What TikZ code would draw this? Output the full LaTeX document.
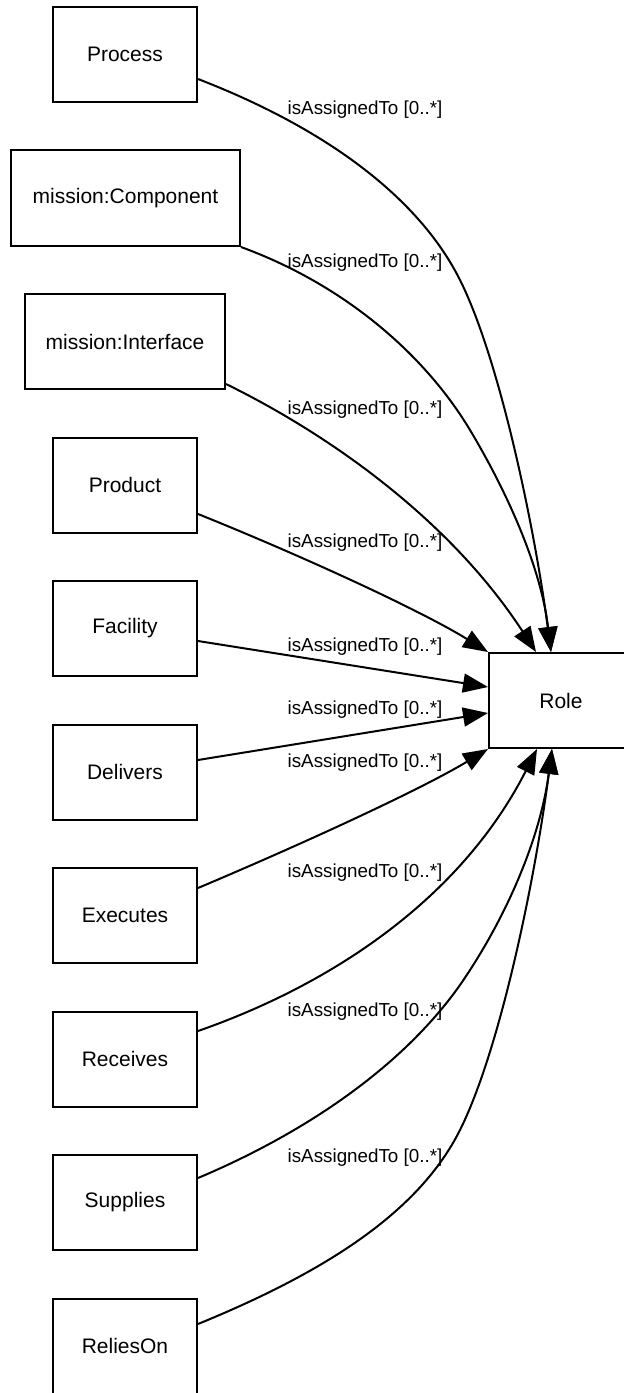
\documentclass[tikz,border=0pt]{standalone}
\usepackage{fontspec}
\setmainfont{Liberation Sans}
\usetikzlibrary{arrows.meta}
\begin{document}
\begin{tikzpicture}[x=1pt,y=-1pt,
  box/.style={draw=black, line width=2pt, fill=white, minimum width=144pt, minimum height=95pt, inner sep=0pt, font=\fontsize{21}{25}\selectfont},
  lbl/.style={inner sep=0pt, font=\fontsize{18.8}{22}\selectfont},
  conn/.style={line width=2pt, -{Triangle[length=25pt,width=19pt]}}]
\fill[white] (0,0) rectangle (624,1393);
\useasboundingbox (0,0) rectangle (624,1393);

\node[box] (process) at (125,54.5) {Process};
\node[box, minimum width=229pt, minimum height=96pt] (component) at (125.5,198) {mission:Component};
\node[box, minimum width=200pt] (interface) at (125,341.5) {mission:Interface};
\node[box] (product) at (125,485) {Product};
\node[box] (facility) at (125,628.5) {Facility};
\node[box] (delivers) at (125,772) {Delivers};
\node[box] (executes) at (125,915.5) {Executes};
\node[box] (receives) at (125,1059) {Receives};
\node[box] (supplies) at (125,1202.5) {Supplies};
\node[box] (relieson) at (125,1346) {ReliesOn};
\node[box] (role) at (561,700.5) {Role};

\draw[conn] ([yshift=-24.5pt]process.east) .. controls (330,130) and (420,200) .. (460,280) .. controls (500,360) and (535,530) .. ([xshift=63pt]role.north west);
\draw[conn] (component.south east) .. controls (345,285) and (425,355) .. (470,430) .. controls (500,480) and (540,560) .. ([xshift=63pt]role.north west);
\draw[conn] ([yshift=-42.5pt]interface.east) .. controls (330,435) and (450,520) .. ([xshift=48pt]role.north west);
\draw[conn] ([yshift=-29pt]product.east) .. controls (300,555) and (420,610) .. (role.north west);
\draw[conn] ([yshift=-12.5pt]facility.east) -- ([yshift=13.5pt]role.west);
\draw[conn] ([yshift=12pt]delivers.east) -- ([yshift=-12.5pt]role.west);
\draw[conn] ([yshift=27.5pt]executes.east) .. controls (300,845) and (420,790) .. (role.south west);
\draw[conn] ([yshift=28pt]receives.east) .. controls (330,985) and (460,900) .. ([xshift=49pt]role.south west);
\draw[conn] ([yshift=24.5pt]supplies.east) .. controls (300,1135) and (400,1070) .. (460,985) .. controls (505,920) and (540,840) .. ([xshift=64pt]role.south west);
\draw[conn] ([yshift=22pt]relieson.east) .. controls (330,1270) and (420,1210) .. (460,1130) .. controls (500,1050) and (535,880) .. ([xshift=64pt]role.south west);

\node[lbl] (l1) at (365,110) {isAssignedTo [0..*]};
\node[lbl] (l2) at (365,263) {isAssignedTo [0..*]};
\node[lbl] (l3) at (365,410) {isAssignedTo [0..*]};
\node[lbl] (l4) at (365,543) {isAssignedTo [0..*]};
\node[lbl] (l5) at (365,647) {isAssignedTo [0..*]};
\node[lbl] (l6) at (365,710) {isAssignedTo [0..*]};
\node[lbl] (l7) at (365,763) {isAssignedTo [0..*]};
\node[lbl] (l8) at (365,873) {isAssignedTo [0..*]};
\node[lbl] (l9) at (365,1012) {isAssignedTo [0..*]};
\node[lbl] (l10) at (365,1158) {isAssignedTo [0..*]};
\end{tikzpicture}
\end{document}
